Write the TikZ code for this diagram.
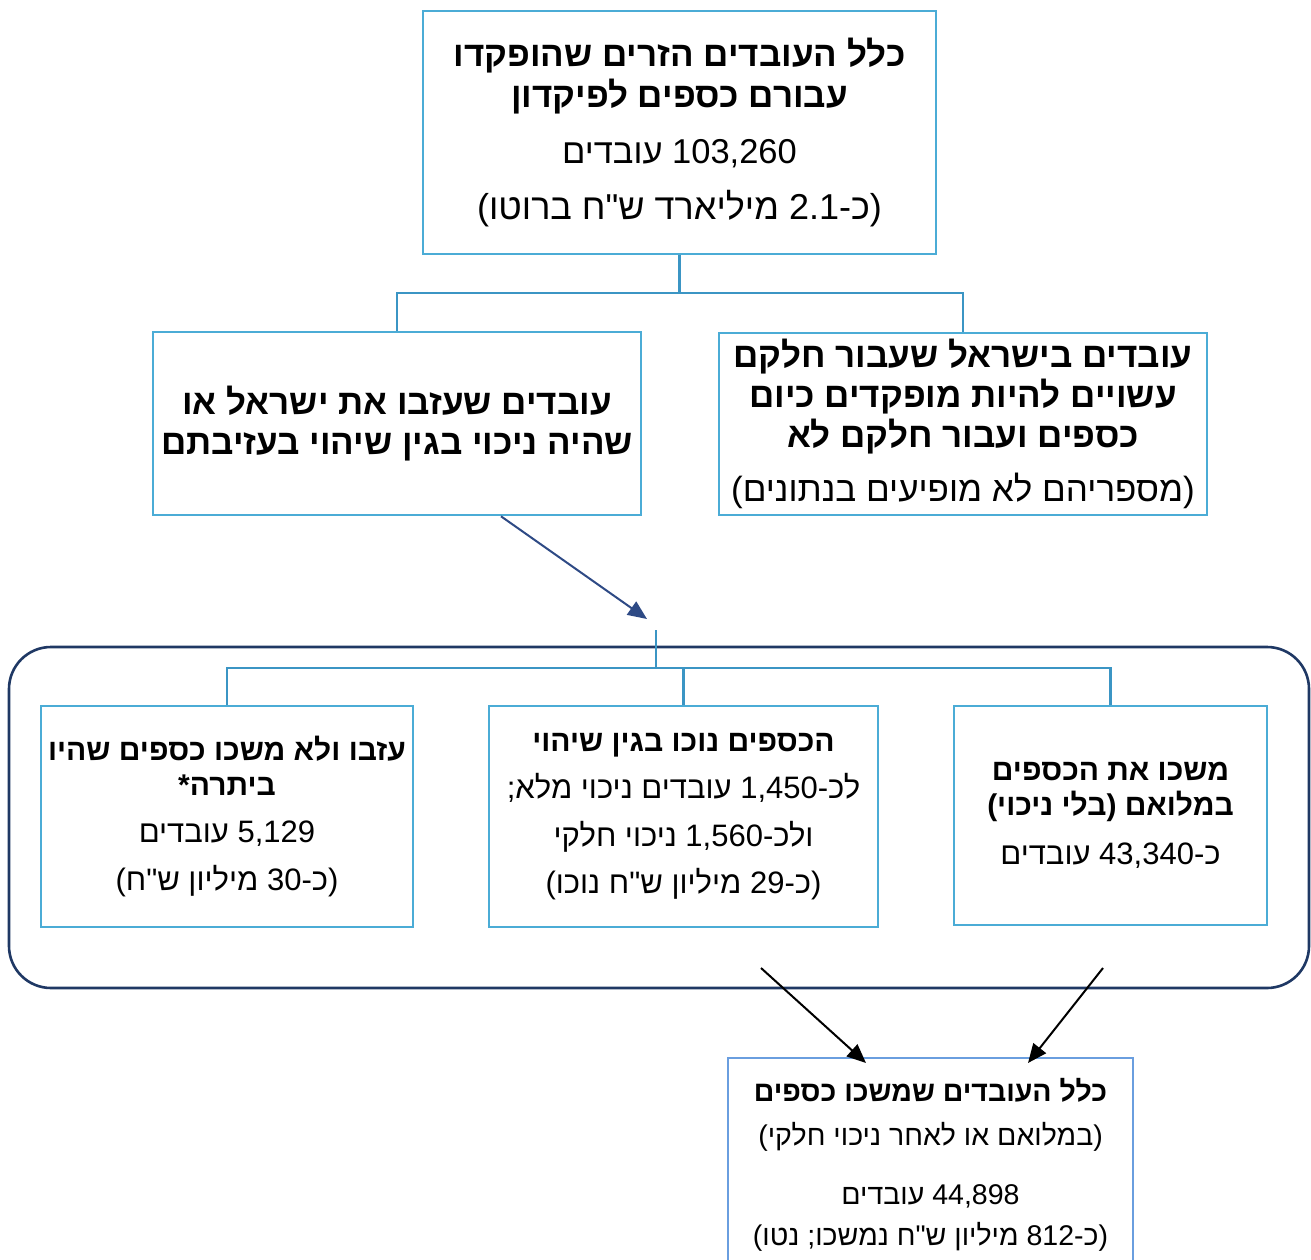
\documentclass[tikz,border=0pt]{standalone}
\usepackage{fontspec}
\TeXXeTstate=1
\newfontfamily\heb[Script=Hebrew]{Liberation Sans}
\usetikzlibrary{arrows.meta}
\definecolor{boxblue}{HTML}{4BACD6}
\definecolor{linkblue}{HTML}{3B95C4}
\definecolor{navy}{HTML}{1F3864}
\definecolor{arrownavy}{HTML}{2E4A85}
\definecolor{botblue}{HTML}{6A9EDF}
\newcommand{\R}[1]{\beginR #1\endR}
\newcommand{\LR}[1]{\beginL #1\endL}
\newcommand{\fb}[2]{\heb\bfseries\fontsize{#1}{#2}\selectfont}
\newcommand{\fr}[2]{\heb\mdseries\fontsize{#1}{#2}\selectfont}
\tikzset{
  box/.style={draw=boxblue, line width=2.6pt, rectangle, inner sep=0pt, align=center},
  link/.style={draw=linkblue, line width=2.6pt},
  navyarrow/.style={draw=arrownavy, line width=2pt, -{Triangle[length=19pt,width=16pt]}},
  blackarrow/.style={draw=black, line width=2pt, -{Triangle[length=19pt,width=16pt]}},
  container/.style={draw=navy, line width=2.6pt, rounded corners=42pt},
}
\begin{document}
\begin{tikzpicture}[x=1pt,y=-1pt]
\useasboundingbox (0,0) rectangle (1311,1260);
% top box
\node[box, minimum width=513pt, minimum height=243pt, font=\fb{35}{41}] (top) at (679.5,132.5) {%
  \fb{35}{41}\R{כלל העובדים הזרים שהופקדו}\\
  \fb{35}{41}\R{עבורם כספים לפיקדון}\\[15pt]
  \fr{34.5}{41}\R{\LR{103,260} עובדים}\\[15pt]
  \fr{36}{41}\R{(כ-\LR{2.1} מיליארד ש"ח ברוטו)}};
% second level
\node[box, minimum width=488pt, minimum height=183pt, font=\fb{35}{40}] (left) at (397,423.5) {%
  \fb{35}{40}\R{עובדים שעזבו את ישראל או}\\
  \fb{35}{40}\R{שהיה ניכוי בגין שיהוי בעזיבתם}};
\node[box, minimum width=488pt, minimum height=182pt, font=\fb{35}{40}] (right) at (963,424) {%
  \fb{35}{40}\R{עובדים בישראל שעבור חלקם}\\
  \fb{35}{40}\R{עשויים להיות מופקדים כיום}\\
  \fb{35}{40}\R{כספים ועבור חלקם לא}\\[14pt]
  \fr{35}{40}\R{(מספריהם לא מופיעים בנתונים)}};
\coordinate (j1) at (679.5,293);
\draw[link] (top.south) -- (j1);
\draw[link] (j1) -| (left.north);
\draw[link] (j1) -| (right.north);
% container
\draw[container] (9,647) rectangle (1309,988);
% third level
\node[box, minimum width=372pt, minimum height=221pt, font=\fb{30}{35}] (a) at (227,816.5) {%
  \fb{30}{35}\R{עזבו ולא משכו כספים שהיו}\\
  \fb{30}{35}\R{ביתרה*}\\[12pt]
  \fr{31}{35}\R{\LR{5,129} עובדים}\\[13pt]
  \fr{31}{35}\R{(כ-\LR{30} מיליון ש"ח)}};
\node[box, minimum width=389pt, minimum height=221pt, font=\fb{30}{35}] (b) at (683.5,816.5) {%
  \fb{30}{35}\R{הכספים נוכו בגין שיהוי}\\[12pt]
  \fr{31}{35}\R{לכ-\LR{1,450} עובדים ניכוי מלא;}\\[13pt]
  \fr{31}{35}\R{ולכ-\LR{1,560} ניכוי חלקי}\\[12pt]
  \fr{31}{35}\R{(כ-\LR{29} מיליון ש"ח נוכו)}};
\node[box, minimum width=313pt, minimum height=219pt, font=\fb{30}{35}] (c) at (1110.5,815.5) {%
  \fb{30}{34}\R{משכו את הכספים}\\
  \fb{30}{34}\R{במלואם (בלי ניכוי)}\\[14pt]
  \fr{31}{34}\R{כ-\LR{43,340} עובדים}};
\coordinate (j2) at (656,668);
\coordinate (j2top) at (656,630);
\draw[link] (j2top) -- (j2);
\draw[link] (a.north) |- (c.north |- j2) -- (c.north);
\draw[link] (b.north) -- (b.north |- j2);
% bottom box
\node[box, draw=botblue, line width=2pt, minimum width=405pt, minimum height=214pt, font=\fb{28.5}{41}] (bot) at (930.5,1165) {%
  \fb{28.5}{41}\R{כלל העובדים שמשכו כספים}\\[3pt]
  \fr{28.5}{41}\R{(במלואם או לאחר ניכוי חלקי)}\\[18pt]
  \fr{28.5}{41}\R{\LR{44,898} עובדים}\\
  \fr{28.5}{41}\R{(כ-\LR{812} מיליון ש"ח נמשכו; נטו)}};
% arrows
\coordinate (n1) at (647,619);
\draw[navyarrow] ([xshift=104pt]left.south) -- (n1);
\coordinate (s1) at (761,968);
\coordinate (s2) at (1103,968);
\draw[blackarrow] (s1) -- ([xshift=-64.5pt,yshift=-6pt]bot.north);
\draw[blackarrow] (s2) -- ([xshift=97.5pt,yshift=-6pt]bot.north);
\end{tikzpicture}
\end{document}
